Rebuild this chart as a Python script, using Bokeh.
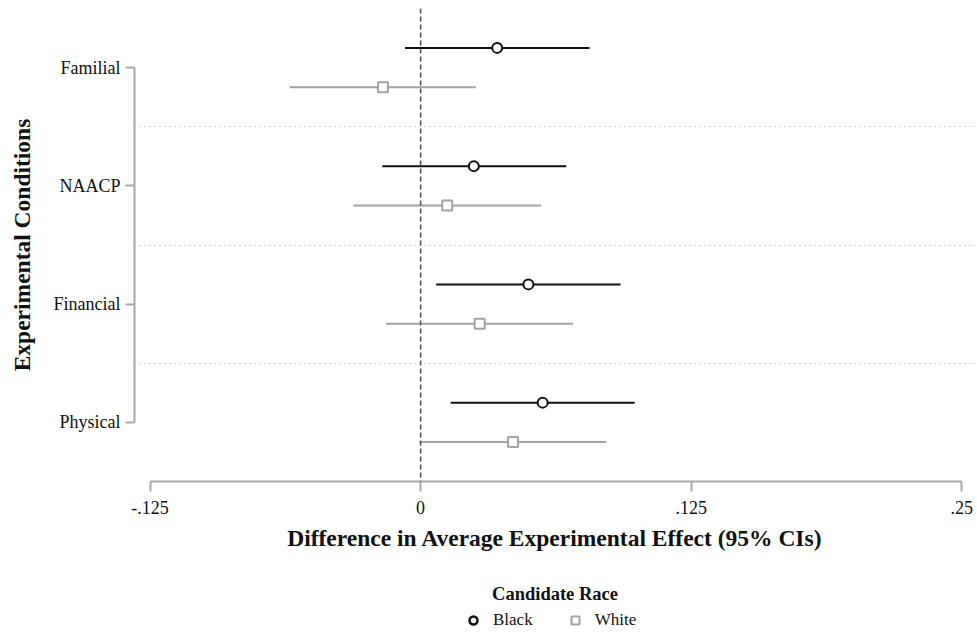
from bokeh.plotting import figure
from bokeh.layouts import column
from bokeh.models import (Range1d, FixedTicker, Span, Legend, LegendItem,
                          ColumnDataSource)
from bokeh.embed import file_html
from bokeh.resources import INLINE

# ---- data ----
conditions = ["Physical", "Financial", "NAACP", "Familial"]   # bottom -> top
black_est = [0.0564, 0.0498, 0.0246, 0.0354]
black_lo = [0.0139, 0.0072, -0.0177, -0.0072]
black_hi = [0.0989, 0.0924, 0.0673, 0.0781]
white_est = [0.0427, 0.0273, 0.0123, -0.0174]
white_lo = [-0.0005, -0.0159, -0.0311, -0.0605]
white_hi = [0.0858, 0.0704, 0.0558, 0.0256]
x_ticks = [-0.125, 0, 0.125, 0.25]
x_tick_labels = ["-.125", "0", ".125", ".25"]
legend_labels = ["Black", "White"]

FONT = "Liberation Serif"
BLACK = "#111111"
GRAY = "#a3a3a3"
AXIS = "#a8a8a8"
TXT = "#111111"

idx = list(range(len(conditions)))
offset = 0.167
src_b = ColumnDataSource(dict(y=[i + offset for i in idx], est=black_est, lo=black_lo, hi=black_hi))
src_w = ColumnDataSource(dict(y=[i - offset for i in idx], est=white_est, lo=white_lo, hi=white_hi))

W = 975
xr = Range1d(-0.1322, 0.2564)

p = figure(width=W, height=566, output_backend="svg", toolbar_location=None,
           x_range=xr, y_range=Range1d(-0.5, 3.5),
           min_border_left=134, min_border_right=0, min_border_top=8,
           min_border_bottom=85)
p.outline_line_color = None
p.background_fill_color = "white"
p.border_fill_color = "white"

# grids
p.xgrid.visible = False
p.ygrid.ticker = FixedTicker(ticks=[0.5, 1.5, 2.5])
p.ygrid.grid_line_color = "#a8a8a8"
p.ygrid.grid_line_dash = "1 4"
p.ygrid.grid_line_width = 1

# zero reference line
p.add_layout(Span(location=0, dimension="height", line_color="#555555",
                  line_dash="5 3", line_width=1.6))

# CIs
p.segment(x0="lo", x1="hi", y0="y", y1="y", source=src_w, line_color=GRAY, line_width=2)
p.segment(x0="lo", x1="hi", y0="y", y1="y", source=src_b, line_color=BLACK, line_width=2)
rw = p.scatter(x="est", y="y", source=src_w, marker="square", size=10,
               fill_color="white", line_color=GRAY, line_width=2)
rb = p.scatter(x="est", y="y", source=src_b, marker="circle", size=10,
               fill_color="white", line_color=BLACK, line_width=2)

# x axis
xa = p.xaxis[0]
xa.ticker = FixedTicker(ticks=x_ticks)
xa.major_label_overrides = {t: l for t, l in zip(x_ticks, x_tick_labels)}
xa.bounds = (x_ticks[0], x_ticks[-1])
xa.axis_line_color = AXIS
xa.axis_line_width = 2
xa.major_tick_line_color = AXIS
xa.major_tick_line_width = 2
xa.major_tick_out = 10
xa.major_tick_in = 0
xa.minor_tick_line_color = None
xa.major_label_standoff = 9
xa.major_label_text_font = FONT
xa.major_label_text_font_size = "18px"
xa.major_label_text_color = TXT
xa.axis_label = "Difference in Average Experimental Effect (95% CIs)"
xa.axis_label_text_font = FONT
xa.axis_label_text_font_style = "bold"
xa.axis_label_text_font_size = "23.5px"
xa.axis_label_text_color = TXT
xa.axis_label_standoff = 8

# y axis
ya = p.yaxis[0]
ya.ticker = FixedTicker(ticks=idx)
ya.major_label_overrides = {i: c for i, c in zip(idx, conditions)}
ya.bounds = (idx[0], idx[-1])
ya.axis_line_color = AXIS
ya.axis_line_width = 2
ya.major_tick_line_color = AXIS
ya.major_tick_line_width = 2
ya.major_tick_out = 9
ya.major_tick_in = 0
ya.minor_tick_line_color = None
ya.major_label_standoff = 5
ya.major_label_text_font = FONT
ya.major_label_text_font_size = "18px"
ya.major_label_text_color = TXT
ya.axis_label = "Experimental Conditions"
ya.axis_label_text_font = FONT
ya.axis_label_text_font_style = "bold"
ya.axis_label_text_font_size = "23.5px"
ya.axis_label_text_color = TXT
ya.axis_label_standoff = 16

# ---- legend strip (reuses the series sources; its y range shows no points) ----
p2 = figure(width=W, height=64, output_backend="svg", toolbar_location=None,
            x_range=xr, y_range=Range1d(-20, -19),
            x_axis_location=None, y_axis_location=None,
            min_border_left=134, min_border_right=0, min_border_top=44,
            min_border_bottom=0, title="Candidate Race")
p2.grid.visible = False
p2.outline_line_color = None
p2.title.align = "center"
p2.title.text_font = FONT
p2.title.text_font_style = "bold"
p2.title.text_font_size = "18.5px"
p2.title.text_color = TXT
p2.title.standoff = 13

lb = p2.scatter(x="est", y="y", source=src_b, marker="circle", size=10,
                fill_color="white", line_color=BLACK, line_width=2.5)
lw = p2.scatter(x="est", y="y", source=src_w, marker="square", size=10,
                fill_color="white", line_color=GRAY, line_width=2)
legend = Legend(items=[LegendItem(label=legend_labels[0], renderers=[lb]),
                       LegendItem(label=legend_labels[1], renderers=[lw])],
                orientation="horizontal", location=(329, 0),
                border_line_color=None, background_fill_alpha=0,
                label_text_font=FONT, label_text_font_size="17px",
                label_text_color=TXT, glyph_width=20, glyph_height=20,
                label_height=20, label_standoff=10, spacing=32,
                padding=0, margin=0)
p2.add_layout(legend, "center")

open("out.html", "w").write(file_html(column(p, p2, spacing=0), INLINE))
